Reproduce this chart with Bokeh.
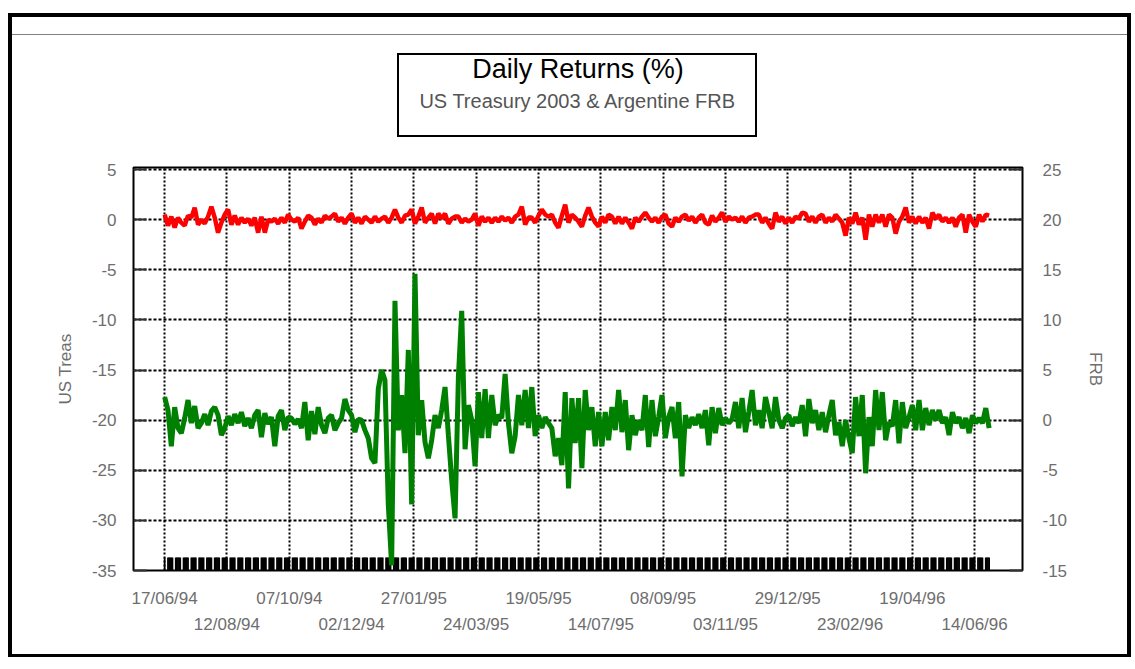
import pandas as pd
from bokeh.plotting import figure
from bokeh.models import (Range1d, LinearAxis, DatetimeAxis, FixedTicker, SingleIntervalTicker,
                          DatetimeTickFormatter, NumeralTickFormatter, Grid, Title, InlineStyleSheet)
from bokeh.embed import file_html
from bokeh.resources import INLINE

# ---------------- data ----------------
start_date = "1994-06-17"
step_days = 3
band_end_date = "1996-06-27"

us_treas = [
    0.5, -0.6, 0.3, -0.8, 0.2, -0.3, -0.6, 0.4, 0.2, 1.2,
    -0.5, 0.0, -0.4, 0.3, 1.3, 0.2, -1.3, -0.3, 0.5, 1.0,
    -0.5, 0.4, -0.5, 0.2, -0.3, 0.1, -0.6, 0.2, -1.3, 0.3,
    -1.3, 0.0, -0.2, 0.1, -0.4, 0.2, -0.3, 0.5, 0.0, -0.2,
    0.2, -0.9, -0.2, 0.4, 0.2, -0.5, 0.1, -0.3, 0.4, 0.1,
    0.3, 0.6, -0.2, 0.2, -0.4, 0.2, 0.6, -0.3, 0.2, -0.4,
    0.3, 0.0, -0.3, 0.3, -0.2, 0.1, 0.3, -0.3, 0.2, 1.0,
    0.2, -0.3, 0.4, 0.5, 1.0, -0.4, 0.3, 1.2, -0.3, 0.2,
    0.6, -0.4, 0.6, 0.1, 0.6, -0.4, 0.1, 0.3, 0.3, -0.3,
    0.1, -0.2, 0.0, 0.6, -0.6, 0.3, -0.2, 0.2, -0.3, 0.2,
    -0.2, 0.3, -0.1, 0.2, -0.3, 0.3, 0.5, 1.3, -0.5, 0.2,
    0.2, -0.3, 0.4, 1.0, 0.5, 0.3, 0.5, -0.3, -0.8, 0.4,
    1.5, -0.3, 0.5, 0.2, -0.2, -0.7, 0.4, 1.2, 0.3, -0.3,
    -0.7, 0.3, -0.3, 0.5, 0.3, -0.4, 0.3, -0.4, 0.2, -0.3,
    -0.9, 0.2, -0.2, 0.3, 0.7, 0.2, -0.2, 0.2, -0.3, 0.3,
    0.5, -0.4, -0.7, 0.2, -0.2, 0.3, 0.5, -0.1, 0.3, -0.3,
    0.2, 0.5, -0.3, -0.5, 0.4, -0.2, 0.2, 0.7, -0.2, 0.3,
    0.0, 0.2, -0.2, 0.3, -0.3, 0.2, 0.3, 0.5, 0.5, -0.3,
    0.2, -0.4, -0.9, 0.7, -0.2, 0.3, -0.4, 0.2, -0.3, 0.3,
    0.1, 0.7, 0.6, -0.2, 0.3, -0.3, 0.3, 0.5, -0.3, 0.2,
    -0.2, 0.5, 0.1, -0.3, -1.6, 0.2, -0.4, 0.7, -0.5, 0.2,
    -2.0, 0.5, -0.7, 0.5, -0.3, 0.5, -0.7, 0.5, 0.2, -1.4,
    -0.2, 0.3, 1.2, -0.3, 0.3, -0.4, 0.3, -0.3, 0.2, -0.9,
    0.7, 0.1, 0.5, -0.2, 0.2, -0.3, 0.2, -0.7, 0.2, 0.5,
    -1.3, 0.5, -0.2, -0.7, 0.5, -0.2, 0.5, 0.4,
]

frb = [
    2.3, 1.0, -2.6, 1.3, -0.8, -1.3, 0.2, 2.0, -0.3, 1.4,
    -0.8, -0.3, 0.6, -0.5, 0.9, 1.3, 0.5, -1.5, -0.8, 0.4,
    -0.5, 0.6, -0.3, 0.8, -0.6, 0.2, -0.8, 0.5, 1.0, -1.7,
    0.7, -0.4, 0.3, -2.6, 0.4, 1.0, -1.0, 0.3, 0.2, -0.4,
    0.1, -0.8, 1.8, -2.0, 0.9, -1.4, 1.3, -0.5, -1.3, 0.2,
    0.5, -1.0, -0.3, 0.2, 2.1, 1.0, 0.5, -1.2, 0.1, 0.0,
    -1.0, -1.8, -3.8, -4.3, 3.1, 5.0, 4.0, -8.4, -14.5, 11.9,
    -1.0, 2.5, -3.3, 7.0, -8.4, 14.6, -1.5, 2.0, -2.2, -3.8,
    -2.0, 0.5, -0.8, 1.0, 3.3, -1.5, -6.0, -9.8, 4.3, 10.9,
    -2.9, 1.5, 0.0, -4.6, 2.8, -1.8, 3.1, -1.8, 2.5, -0.5,
    0.5, 0.2, 4.6, -0.3, -3.3, -1.6, 2.5, -0.5, 3.0, -0.8,
    3.3, -1.6, 0.5, -0.8, 0.3, -0.3, -0.8, -3.6, -1.8, -4.5,
    2.8, -6.8, 2.2, -2.3, 2.2, -4.8, 3.0, -1.0, 1.3, -2.6,
    0.8, -2.6, 0.8, -2.0, 1.3, -1.0, 3.0, -1.2, 2.0, -3.0,
    0.5, -1.5, 0.0, -1.0, 2.5, -2.7, 2.0, -1.6, 0.3, 2.5,
    -1.8, 0.3, 1.3, -1.8, 1.8, -5.6, 0.5, -0.8, 0.3, -0.5,
    0.6, -0.8, 1.0, -2.5, 1.3, -1.3, 1.2, -0.5, 0.2, -0.3,
    0.1, 1.8, -0.8, 2.2, -1.2, 0.8, 3.0, -0.5, 1.0, -0.8,
    2.3, 0.8, -0.8, 2.3, 0.0, -0.8, 0.2, 0.5, -0.6, 0.3,
    -0.3, 1.5, -1.6, 2.1, -0.3, 1.0, -1.0, 0.8, -1.2, 0.5,
    2.0, -1.5, -0.2, -2.6, 0.0, -1.8, -3.3, 2.3, -1.6, 2.5,
    -5.3, 0.3, -2.6, 3.0, -1.0, 2.8, -2.0, -0.2, -0.6, 2.0,
    -2.3, 1.8, -0.8, 0.3, 1.5, -1.0, 2.0, -1.0, 1.2, -0.5,
    1.0, 0.0, 1.0, -0.3, 0.3, -1.5, 0.8, -0.3, 0.3, -0.8,
    0.2, -1.3, 0.5, -0.3, 0.2, -0.3, 1.2, -0.8,
]

tick_labels_row1 = ["17/06/94", "07/10/94", "27/01/95", "19/05/95", "08/09/95", "29/12/95", "19/04/96"]
tick_labels_row2 = ["12/08/94", "02/12/94", "24/03/95", "14/07/95", "03/11/95", "23/02/96", "14/06/96"]

title_text = "Daily Returns (%)"
subtitle_text = "US Treasury 2003 & Argentine FRB"
left_label = "US Treas"
right_label = "FRB"

# ---------------- derived ----------------
dates = pd.date_range(start_date, periods=len(us_treas), freq=f"{step_days}D")
band_days = pd.bdate_range(start_date, band_end_date)
EPOCH = pd.Timestamp("1970-01-01")


def to_ms(label):
    ts = pd.to_datetime(label, format="%d/%m/%y")
    return (ts - EPOCH).total_seconds() * 1000.0


row1_ticks = [to_ms(s) for s in tick_labels_row1]
row2_ticks = [to_ms(s) for s in tick_labels_row2]
all_ticks = sorted(row1_ticks + row2_ticks)

FONT = "Liberation Sans"
GRAY = "#6e6e6e"

W, H = 1130, 660
FL, FT, FR, FB = 133, 167, 1022, 570   # frame edges on the canvas

frame_css = InlineStyleSheet(css="""
:host { position: relative; }
:host::before {
  content: ""; position: absolute; box-sizing: border-box;
  left: 8px; top: 13px; width: 1123px; height: 644px;
  border: 4px solid #000; border-bottom-width: 3px;
  background: linear-gradient(#808080, #808080) no-repeat;
  background-size: 100% 1px; background-position: 0 17px;
  z-index: 50; pointer-events: none;
}
:host::after {
  content: ""; position: absolute; box-sizing: border-box;
  left: 397px; top: 53px; width: 360px; height: 84px;
  border: 2px solid #000;
  z-index: 50; pointer-events: none;
}
""")

p = figure(width=W, height=H, x_axis_type=None, y_axis_type=None,
           output_backend="svg", toolbar_location=None,
           x_range=Range1d(pd.Timestamp("1994-05-20").to_pydatetime(),
                           pd.Timestamp("1996-07-27").to_pydatetime()),
           y_range=Range1d(-35, 5.2),
           min_border_left=FL, min_border_right=W - FR,
           min_border_top=FT, min_border_bottom=H - FB,
           stylesheets=[frame_css])
p.extra_y_ranges = {"frb": Range1d(-15, 25.2)}
p.outline_line_color = "black"
p.outline_line_width = 2
p.background_fill_color = "white"
p.border_fill_color = "white"

# grids
xg = Grid(dimension=0, ticker=FixedTicker(ticks=all_ticks),
          grid_line_color="black", grid_line_dash="2 2", grid_line_width=2)
yg = Grid(dimension=1, ticker=SingleIntervalTicker(interval=5),
          grid_line_color="black", grid_line_dash="3 2", grid_line_width=2)
p.add_layout(xg)
p.add_layout(yg)


def style_y(ax, label):
    ax.axis_label = label
    ax.axis_label_text_font = FONT
    ax.axis_label_text_font_size = "17px"
    ax.axis_label_text_font_style = "normal"
    ax.axis_label_text_color = GRAY
    ax.major_label_text_font = FONT
    ax.major_label_text_font_size = "17px"
    ax.major_label_text_color = GRAY
    ax.major_tick_in = 13
    ax.major_tick_out = 0
    ax.major_tick_line_color = "#303030"
    ax.major_tick_line_width = 2
    ax.minor_tick_line_color = None
    ax.axis_line_color = None
    ax.major_label_standoff = 13
    ax.formatter = NumeralTickFormatter(format="0")


left_ax = LinearAxis(ticker=SingleIntervalTicker(interval=5))
style_y(left_ax, left_label)
left_ax.axis_label_standoff = 14
p.add_layout(left_ax, "left")

right_ax = LinearAxis(y_range_name="frb", ticker=SingleIntervalTicker(interval=5))
style_y(right_ax, right_label)
right_ax.major_label_standoff = 16
right_ax.axis_label_standoff = 16
p.add_layout(right_ax, "right")

fmt = "%d/%m/%y"
date_fmt = DatetimeTickFormatter(microseconds=fmt, milliseconds=fmt, seconds=fmt, minsec=fmt,
                                 minutes=fmt, hourmin=fmt, hours=fmt, days=fmt,
                                 months=fmt, years=fmt)


def style_x(ax, standoff):
    ax.major_label_text_font = FONT
    ax.major_label_text_font_size = "17px"
    ax.major_label_text_color = GRAY
    ax.major_tick_in = 0
    ax.major_tick_out = 0
    ax.major_tick_line_color = None
    ax.minor_tick_line_color = None
    ax.axis_line_color = None
    ax.major_label_standoff = standoff


x1 = DatetimeAxis(ticker=FixedTicker(ticks=row1_ticks), formatter=date_fmt)
style_x(x1, 18)
x2 = DatetimeAxis(ticker=FixedTicker(ticks=row2_ticks), formatter=date_fmt)
style_x(x2, 4)
p.add_layout(x1, "below")
p.add_layout(x2, "below")

# titles (first added sits nearest the frame); a blank spacer keeps the gap
p.add_layout(Title(text=" ", text_font=FONT, text_font_size="10px", standoff=41), "above")
p.add_layout(Title(text=subtitle_text, align="center", text_font=FONT,
                   text_font_size="20px", text_font_style="normal",
                   text_color="#555555", standoff=3), "above")
p.add_layout(Title(text=title_text, align="center", text_font=FONT,
                   text_font_size="27px", text_font_style="normal",
                   text_color="black", standoff=5), "above")

# tick band along the bottom (one mark per business day)
p.vbar(x=band_days, width=1.6 * 86400000, bottom=-35, top=-33.7,
       fill_color="black", line_color=None)

# series
p.line(dates, us_treas, line_color="#ff0000", line_width=4.5)
p.line(dates, frb, line_color="#008000", line_width=5, y_range_name="frb")

open("out.html", "w").write(file_html(p, INLINE))
